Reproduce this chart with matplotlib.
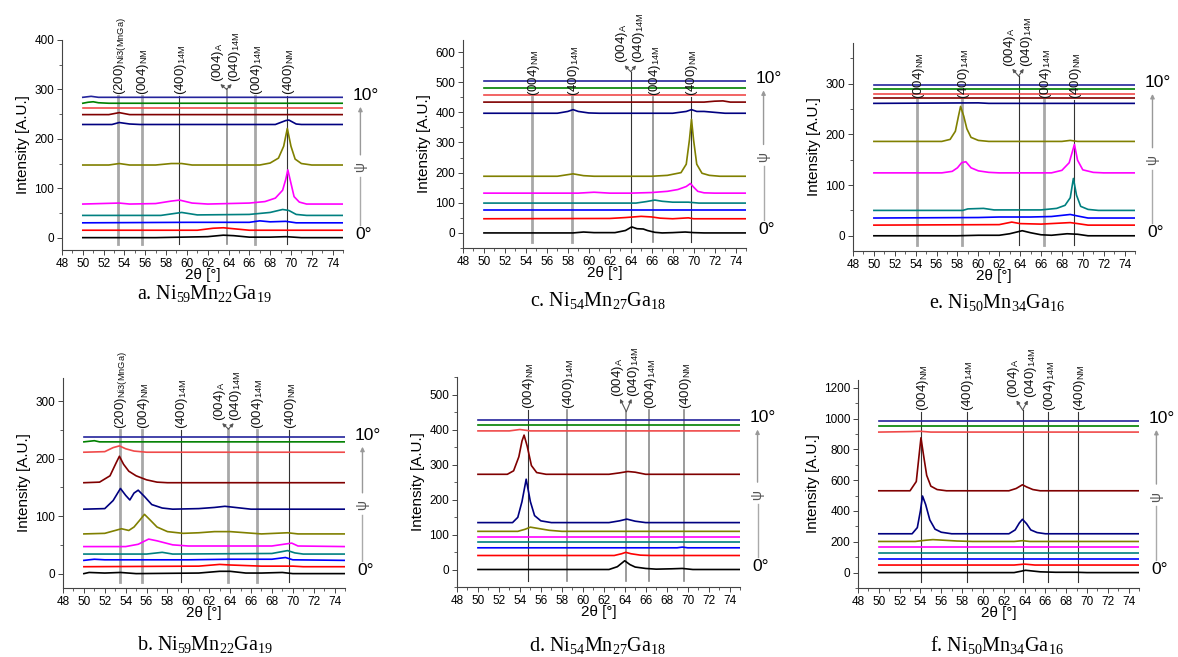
import matplotlib
matplotlib.use("Agg")
import matplotlib.pyplot as plt
import matplotlib.transforms as mtransforms
from matplotlib.ticker import MultipleLocator

plt.rcParams['font.family'] = ['Liberation Sans', 'DejaVu Sans']
plt.rcParams['mathtext.fontset'] = 'custom'
plt.rcParams['mathtext.rm'] = 'Liberation Serif'
plt.rcParams['mathtext.sf'] = 'Liberation Sans'
plt.rcParams['mathtext.it'] = 'Liberation Serif:italic'

W, H = 1178, 657

# trace colours, bottom (0 deg) to top (10 deg)
colors = ['#000000', '#ff0000', '#0000ff', '#008080', '#ff00ff', '#808000',
          '#000080', '#800000', '#f04a4a', '#008000', '#24249c']

FLAT = [(50, 0), (75, 0)]

# ---- a. Ni59Mn22Ga19 (first sample) ----
offsets_a = [0, 15, 30, 45, 68, 147, 229, 249, 262, 272, 284]
shapes_a = [
    [(50, 0), (57, 0), (62, 2), (63.5, 5), (64.5, 4), (66, 1), (68, 1), (69.5, 2), (71, 0), (75, 0)],
    [(50, 0), (61, 0), (62.5, 4), (63.5, 5), (65, 2), (66, 0), (75, 0)],
    [(50, 0), (60, 1), (66, 1), (67, 4), (68, 2), (69.5, 3), (70.5, 0), (75, 0)],
    [(50, 0), (57.5, 0), (59.5, 6), (61, 1), (66, 2), (68, 6), (69.2, 12), (69.8, 10), (70.5, 2), (71.5, 0), (75, 0)],
    [(50, 0), (53.5, 2), (54.5, 0), (57, 1), (58.5, 6), (59.3, 8), (60.5, 2), (62, 0), (66, 2), (67.5, 5),
     (68.5, 12), (69.2, 28), (69.5, 50), (69.7, 69), (70, 42), (70.3, 15), (70.8, 4), (71.5, 0), (75, 0)],
    [(50, 0), (52.5, 0), (53.5, 3), (54.5, 0), (57, 0), (58.5, 3), (59.5, 3), (60.5, 0), (67, 0), (68, 4),
     (68.8, 14), (69.3, 38), (69.65, 74), (70, 38), (70.4, 12), (71, 3), (72, 0), (75, 0)],
    [(50, 0), (52.8, 0), (53.5, 4), (54.5, 1), (55.5, 0), (68.5, 0), (69.5, 8), (69.8, 9), (70.5, 1), (71, 0), (75, 0)],
    [(50, 0), (52.5, 0), (53.5, 4), (54.5, 0), (75, 0)],
    FLAT,
    [(50, 0), (50.5, 2), (51, 3), (51.5, 1), (52.5, 0), (75, 0)],
    [(50, 0), (50.8, 2), (51.5, 0), (75, 0)],
]
refs_a = [53.42, 55.66, 59.27, 63.81, 66.53, 69.63]
ref_labels_a = ['(200)$_{\\mathsf{Ni3(MnGa)}}$', '(004)$_{\\mathsf{NM}}$', '(400)$_{\\mathsf{14M}}$',
                None, '(004)$_{\\mathsf{14M}}$', '(400)$_{\\mathsf{NM}}$']
ref_kind_a = ['thick', 'thick', 'thin', 'mid', 'thick', 'thin']

# ---- b. Ni59Mn22Ga19 (second sample) ----
offsets_b = [0, 12, 23, 34, 47, 69, 112, 158, 211, 229, 237]
shapes_b = [
    [(50, 0), (50.5, 2), (52, 1), (53.5, 2), (55, 0), (61, 1), (63, 4), (64, 4), (65.5, 1), (67, 1), (69, 2), (70, 0), (75, 0)],
    [(50, 0), (61, 1), (63, 4), (64, 3), (65.5, 2), (67, 1), (70, 1), (71, 0), (75, 0)],
    [(50, 0), (51, 2), (52, 1), (60, 1), (64, 2), (68, 2), (69.3, 5), (70, 1), (75, 0)],
    [(50, 0), (56, 0), (57.5, 3), (58.5, 0), (68, 1), (69.5, 6), (70.2, 2), (71, 0), (75, 0)],
    [(50, 0), (54, 0), (55.2, 4), (56.2, 13), (57, 10), (58.5, 3), (60, 1), (63, 1), (68, 1), (69.5, 5),
     (69.9, 6), (70.5, 1), (75, 0)],
    [(50, 0), (52, 1), (53, 6), (53.6, 9), (54.3, 6), (54.8, 12), (55.4, 25), (55.8, 34), (56.3, 25), (57, 12),
     (58, 4), (59.5, 1), (61, 2), (62.5, 4), (64, 4), (65.5, 2), (67, 0), (69.5, 2), (70.5, 0), (75, 0)],
    [(50, 0), (52, 1), (52.8, 15), (53.5, 36), (54, 24), (54.4, 16), (54.8, 28), (55.2, 33), (55.8, 22),
     (56.5, 8), (57.5, 2), (58.5, 0), (61, 1), (62.5, 3), (63.5, 5), (64.5, 3), (66, 0), (75, 0)],
    [(50, 0), (51.5, 1), (52.5, 12), (53.1, 35), (53.4, 46), (53.8, 32), (54.3, 20), (55, 12), (56, 5),
     (57, 1), (58, 0), (75, 0)],
    [(50, 0), (52, 1), (52.8, 8), (53.4, 11), (54, 6), (54.8, 2), (56, 0), (75, 0)],
    [(50, 0), (51, 2), (51.5, 0), (75, 0)],
    FLAT,
]
refs_b = [53.42, 55.59, 59.27, 63.84, 66.53, 69.66]
ref_labels_b = ref_labels_a
ref_kind_b = ['thick', 'thick', 'thin', 'thick', 'thick', 'thin']

# ---- c. Ni54Mn27Ga18 (first sample) ----
offsets_c = [0, 47, 77, 99, 132, 188, 397, 434, 459, 482, 504]
shapes_c = [
    [(50, 0), (58.5, 0), (59.5, 3), (60.5, 1), (62.5, 1), (63.5, 8), (64.1, 20), (64.6, 14), (65.2, 13),
     (65.6, 8), (66.3, 2), (67, 0), (68, 1), (69.2, 3), (70, 1), (71, 0), (75, 0)],
    [(50, 0), (62, 1), (63.5, 4), (65, 8), (66, 6), (66.8, 2), (68, 0), (69.5, 3), (70, 0), (75, 0)],
    FLAT,
    [(50, 0), (64.5, 0), (65.5, 5), (66.3, 10), (67, 6), (68, 3), (69.5, 3), (70.5, 0), (75, 0)],
    [(50, 0), (59, 0), (60.5, 3), (62, 0), (64, 0), (66, 2), (67.5, 6), (68.5, 12), (69.3, 22), (69.7, 32),
     (70, 20), (70.4, 6), (71, 1), (72, 0), (75, 0)],
    [(50, 0), (57, 0), (58.5, 8), (59.5, 2), (60.5, 0), (66, 0), (67.5, 3), (68.8, 12), (69.3, 40),
     (69.6, 120), (69.8, 189), (70, 120), (70.3, 40), (70.8, 10), (71.5, 3), (72.5, 0), (75, 0)],
    [(50, 0), (57, 0), (58, 6), (58.5, 12), (59, 6), (60, 1), (61, 0), (68, 0), (69.3, 6), (69.8, 12),
     (70.3, 6), (71, 6), (72, 3), (73, 0), (75, 0)],
    [(50, 0), (71, 0), (72, 3), (72.8, 4), (73.5, 0), (75, 0)],
    FLAT,
    FLAT,
    FLAT,
]
refs_c = [54.62, 58.44, 64.01, 66.15, 69.71]
ref_labels_c = ['(004)$_{\\mathsf{NM}}$', '(400)$_{\\mathsf{14M}}$', None,
                '(004)$_{\\mathsf{14M}}$', '(400)$_{\\mathsf{NM}}$']
ref_kind_c = ['thick', 'thick', 'thin', 'mid', 'thin']

# ---- d. Ni54Mn27Ga18 (second sample) ----
offsets_d = [0, 40, 62, 78, 93, 109, 134, 272, 396, 412, 427]
shapes_d = [
    [(50, 0), (62.5, 0), (63.3, 8), (64, 25), (64.5, 14), (65, 7), (66, 3), (67, 1), (68.5, 2), (69.5, 3), (70.5, 0), (75, 0)],
    [(50, 0), (63, 0), (63.7, 5), (64.1, 9), (64.6, 5), (65.5, 1), (66.5, 0), (75, 0)],
    [(50, 0), (69, 0), (69.5, 2), (70, 0), (75, 0)],
    FLAT,
    FLAT,
    [(50, 0), (53.8, 0), (54.5, 6), (55, 12), (55.8, 8), (56.8, 3), (58, 0), (75, 0)],
    [(50, 0), (53.3, 0), (53.8, 15), (54.2, 60), (54.6, 124), (55, 60), (55.4, 20), (56, 5), (57, 0),
     (62.5, 0), (63.5, 5), (64.2, 10), (65, 4), (66, 0), (75, 0)],
    [(50, 0), (52.8, 0), (53.4, 10), (53.9, 50), (54.2, 95), (54.4, 112), (54.7, 80), (55.1, 25), (55.6, 5),
     (56.5, 0), (62.5, 0), (63.5, 4), (64.3, 8), (65, 6), (66, 0), (75, 0)],
    [(50, 0), (53, 0), (54, 4), (55, 0), (75, 0)],
    FLAT,
    FLAT,
]
refs_d = [54.73, 58.50, 64.15, 66.31, 69.67]
ref_labels_d = ref_labels_c
ref_kind_d = ['thin', 'mid', 'mid', 'mid', 'mid']

# ---- e. Ni50Mn34Ga16 (first sample) ----
offsets_e = [0, 21, 35, 50, 124, 186, 261, 271, 280, 289, 298]
shapes_e = [
    [(50, 0), (58, 0), (60, 1), (62, 1), (63, 4), (64.2, 10), (65, 6), (66, 2), (67, 1), (68.5, 4), (69.5, 3), (70.5, 0), (75, 0)],
    [(50, 0), (62, 1), (63.2, 6), (64, 3), (66, 2), (68.8, 5), (69.5, 3), (70.5, 0), (75, 0)],
    [(50, 0), (60, 1), (62, 2), (65, 2), (67, 3), (68.8, 7), (69.5, 4), (70.5, 0), (75, 0)],
    [(50, 0), (58.5, 0), (59, 3), (60.5, 4), (61.5, 1), (66, 1), (67.5, 4), (68.3, 10), (68.8, 25),
     (69.1, 63), (69.4, 30), (69.8, 8), (70.5, 2), (71.5, 0), (75, 0)],
    [(50, 0), (56.5, 0), (57.5, 3), (58, 10), (58.4, 20), (58.8, 22), (59.3, 10), (60, 4), (61, 1), (62, 0),
     (67, 0), (68, 5), (68.7, 20), (69.2, 56), (69.5, 25), (70, 6), (71, 1), (72, 0), (75, 0)],
    [(50, 0), (56.5, 0), (57.3, 4), (57.8, 20), (58.1, 50), (58.3, 69), (58.6, 50), (58.9, 25), (59.3, 8),
     (60, 2), (61, 0), (68, 0), (68.8, 2), (69.5, 0), (75, 0)],
    [(50, 0), (60, 1), (61, 0), (75, 0)],
    FLAT,
    FLAT,
    FLAT,
    FLAT,
]
refs_e = [54.14, 58.44, 63.85, 66.31, 69.17]
ref_labels_e = ref_labels_c
ref_kind_e = ['thick', 'thick', 'thin', 'thick', 'thin']

# ---- f. Ni50Mn34Ga16 (second sample) ----
offsets_f = [0, 49, 88, 127, 163, 202, 252, 531, 912, 950, 987]
shapes_f = [
    [(50, 0), (63, 0), (63.6, 8), (64.1, 15), (64.8, 10), (65.5, 5), (67, 2), (69, 2), (70, 0), (75, 0)],
    [(50, 0), (63, 0), (64, 6), (65, 0), (75, 0)],
    FLAT,
    FLAT,
    FLAT,
    [(50, 0), (53.5, 0), (54.5, 8), (55.2, 12), (56, 9), (57.5, 3), (59, 0), (63, 0), (63.8, 5), (64.5, 0), (75, 0)],
    [(50, 0), (53.2, 0), (53.7, 40), (54, 150), (54.2, 245), (54.5, 190), (54.9, 90), (55.4, 30), (56, 10),
     (57, 0), (62.5, 0), (63.1, 25), (63.5, 70), (63.8, 94), (64.2, 65), (64.6, 25), (65.2, 8), (66, 0), (75, 0)],
    [(50, 0), (53, 0), (53.6, 60), (53.9, 250), (54.05, 344), (54.3, 230), (54.6, 100), (55, 30), (55.6, 8),
     (56.5, 0), (62.5, 0), (63.2, 15), (63.8, 39), (64.2, 25), (64.8, 8), (65.5, 0), (75, 0)],
    [(50, 0), (53, 3), (54, 5), (55, 0), (75, 0)],
    FLAT,
    FLAT,
]
refs_f = [54.08, 58.44, 63.82, 66.24, 69.14]
ref_labels_f = ref_labels_c
ref_kind_f = ['thin', 'thin', 'thin', 'thin', 'thin']

captions = ['a. Ni$_{\\mathrm{59}}$Mn$_{\\mathrm{22}}$Ga$_{\\mathrm{19}}$',
            'b. Ni$_{\\mathrm{59}}$Mn$_{\\mathrm{22}}$Ga$_{\\mathrm{19}}$',
            'c. Ni$_{\\mathrm{54}}$Mn$_{\\mathrm{27}}$Ga$_{\\mathrm{18}}$',
            'd. Ni$_{\\mathrm{54}}$Mn$_{\\mathrm{27}}$Ga$_{\\mathrm{18}}$',
            'e. Ni$_{\\mathrm{50}}$Mn$_{\\mathrm{34}}$Ga$_{\\mathrm{16}}$',
            'f. Ni$_{\\mathrm{50}}$Mn$_{\\mathrm{34}}$Ga$_{\\mathrm{16}}$']

ref_style = {'thick': dict(color='#a8a8a8', lw=2.0),
             'mid': dict(color='#8a8a8a', lw=1.2),
             'thin': dict(color='#333333', lw=0.8)}

# panel layout in pixels: box (left, right, top, bottom), ylim, y step,
# label base / V apex / V label base (axes fraction), caption baseline
panels = [
    dict(offs=offsets_a, shapes=shapes_a, refs=refs_a, labels=ref_labels_a, kinds=ref_kind_a,
         box=(62, 343, 40, 250), ylim=(-25, 400), ystep=100, lab=0.735, apex=0.765, vlab=0.80,
         cap=(204, 299), caption=captions[0]),
    dict(offs=offsets_b, shapes=shapes_b, refs=refs_b, labels=ref_labels_b, kinds=ref_kind_b,
         box=(63, 345, 378, 588), ylim=(-25, 340), ystep=100, lab=0.752, apex=0.757, vlab=0.795,
         cap=(205, 650), caption=captions[1]),
    dict(offs=offsets_c, shapes=shapes_c, refs=refs_c, labels=ref_labels_c, kinds=ref_kind_c,
         box=(463, 746, 40, 248), ylim=(-50, 640), ystep=100, lab=0.727, apex=0.848, vlab=0.888,
         cap=(598, 306), caption=captions[2]),
    dict(offs=offsets_d, shapes=shapes_d, refs=refs_d, labels=ref_labels_d, kinds=ref_kind_d,
         box=(457, 740, 377, 587), ylim=(-50, 550), ystep=100, lab=0.843, apex=0.835, vlab=0.906,
         cap=(597, 651), caption=captions[3]),
    dict(offs=offsets_e, shapes=shapes_e, refs=refs_e, labels=ref_labels_e, kinds=ref_kind_e,
         box=(853, 1135, 43, 251), ylim=(-30, 380), ystep=100, lab=0.726, apex=0.841, vlab=0.886,
         cap=(997, 308), caption=captions[4]),
    dict(offs=offsets_f, shapes=shapes_f, refs=refs_f, labels=ref_labels_f, kinds=ref_kind_f,
         box=(858, 1139, 380, 588), ylim=(-100, 1250), ystep=200, lab=0.848, apex=0.856, vlab=0.912,
         cap=(997, 651), caption=captions[5]),
]

fig = plt.figure(figsize=(W / 100, H / 100), dpi=100)

LAB_FS = 9.5


def peak_label(ax, x, y, text):
    # rotated label whose main text column sits on the line x
    tr = mtransforms.offset_copy(ax.get_xaxis_transform(), fig=fig, x=0.36 * LAB_FS, units='points')
    ax.text(x, y, text, transform=tr, rotation=90, rotation_mode='anchor',
            ha='left', va='baseline', fontsize=LAB_FS, color='#111111', clip_on=False)


for p in panels:
    l, r, t, b = p['box']
    ax = fig.add_axes([l / W, 1 - b / H, (r - l) / W, (b - t) / H])
    ax.set_xlim(48, 75)
    ax.set_ylim(*p['ylim'])

    for off, shape, c in zip(p['offs'], p['shapes'], colors):
        xs = [pt[0] for pt in shape]
        ys = [off + pt[1] for pt in shape]
        ax.plot(xs, ys, color=c, lw=1.2, zorder=3)

    xt = ax.get_xaxis_transform()
    for x, lab, kind in zip(p['refs'], p['labels'], p['kinds']):
        if lab is None:
            # split line: (004)A and (040)14M
            ax.plot([x, x], [0.03, p['apex']], transform=xt, clip_on=False, zorder=2, **ref_style[kind])
            for dx in (-0.6, 0.5):
                ax.annotate('', xy=(x + dx, p['vlab'] - 0.01), xytext=(x, p['apex']),
                            xycoords=xt, textcoords=xt, annotation_clip=False,
                            arrowprops=dict(arrowstyle='-|>', color='#555555', lw=0.8,
                                            mutation_scale=5, shrinkA=0, shrinkB=0))
            peak_label(ax, x - 1.0, p['vlab'], '(004)$_{\\mathsf{A}}$')
            peak_label(ax, x + 0.6, p['vlab'], '(040)$_{\\mathsf{14M}}$')
        else:
            ax.plot([x, x], [0.03, p['lab']], transform=xt, clip_on=False, zorder=2, **ref_style[kind])
            peak_label(ax, x, p['lab'] + 0.005, lab)

    # psi arrow at the right
    y0, y1 = p['ylim']
    ft = (p['offs'][-1] - y0) / (y1 - y0)
    fz = (0 - y0) / (y1 - y0)
    mid = (ft + fz) / 2
    xa = 1.062
    ax.annotate('', xy=(xa, ft - 0.045), xytext=(xa, mid + 0.06), xycoords='axes fraction',
                annotation_clip=False,
                arrowprops=dict(arrowstyle='-|>', color='#999999', lw=1.0, mutation_scale=6,
                                shrinkA=0, shrinkB=0))
    ax.plot([xa, xa], [fz + 0.06, mid - 0.045], transform=ax.transAxes, color='#aaaaaa',
            lw=1.0, clip_on=False)
    ax.text(xa, mid, 'ψ', transform=ax.transAxes, rotation=90, ha='center', va='center',
            fontsize=10, color='#555555')
    ax.text(xa + 0.018, ft + 0.01, '10°', transform=ax.transAxes, ha='center', va='center',
            fontsize=12.5)
    ax.text(xa + 0.01, fz + 0.015, '0°', transform=ax.transAxes, ha='center', va='center',
            fontsize=12.5)

    ax.spines['top'].set_visible(False)
    ax.spines['right'].set_visible(False)
    for s in ('left', 'bottom'):
        ax.spines[s].set_color('#444444')
        ax.spines[s].set_linewidth(0.8)
    ax.xaxis.set_major_locator(MultipleLocator(2))
    ax.xaxis.set_minor_locator(MultipleLocator(1))
    ax.yaxis.set_major_locator(MultipleLocator(p['ystep']))
    ax.yaxis.set_minor_locator(MultipleLocator(p['ystep'] / 2))
    ax.tick_params(which='major', direction='out', length=3.5, width=0.7, labelsize=8.5,
                   color='#444444', pad=2)
    ax.tick_params(which='minor', direction='out', length=2, width=0.6, color='#444444')
    ax.set_xlabel('2θ [°]', fontsize=11, labelpad=-1)
    ax.set_ylabel('Intensity [A.U.]', fontsize=11, labelpad=3)

    cx, cy = p['cap']
    fig.text(cx / W, 1 - cy / H, p['caption'], ha='center', va='baseline', fontsize=14.5,
             family='Liberation Serif')

fig.savefig('out.png', dpi=100)
